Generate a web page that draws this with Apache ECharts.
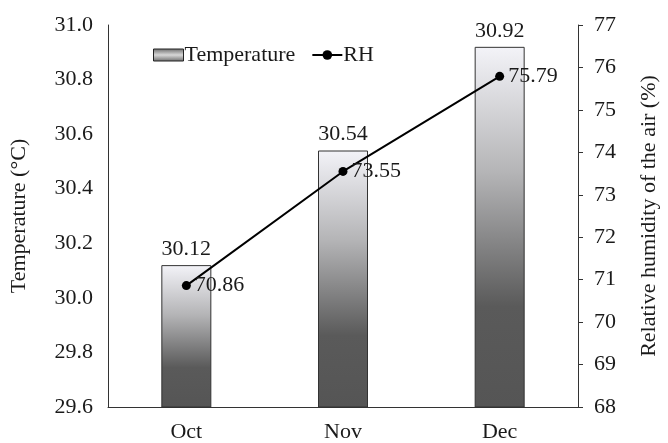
<!DOCTYPE html>
<html>
<head>
<meta charset="utf-8">
<script src="https://cdn.jsdelivr.net/npm/echarts@6/dist/echarts.min.js"></script>
<style>
  html, body { margin: 0; padding: 0; background: #fff; }
  #chart { width: 668px; height: 443px; }
</style>
</head>
<body>
<div id="chart"></div>
<script>
// Monthly mean air temperature and relative humidity
const months = ['Oct', 'Nov', 'Dec'];
const temperature = [30.12, 30.54, 30.92];
const humidity = [70.86, 73.55, 75.79];

const FONT = '"Liberation Serif", "Times New Roman", serif';
const TXT = '#1a1a1a';
const FS = 22;

const barFill = new echarts.graphic.LinearGradient(0, 0, 0, 1, [
  { offset: 0, color: '#f3f3f8' },
  { offset: 0.35, color: '#b4b4b6' },
  { offset: 0.72, color: '#5a5a5a' },
  { offset: 1, color: '#555555' }
]);
const legendFill = new echarts.graphic.LinearGradient(0, 0, 0, 1, [
  { offset: 0, color: '#6a6a6a' },
  { offset: 0.5, color: '#d8d8d8' },
  { offset: 1, color: '#6a6a6a' }
]);

const chart = echarts.init(document.getElementById('chart'), null, { renderer: 'canvas' });
chart.setOption({
  backgroundColor: '#fff',
  animation: false,
  textStyle: { fontFamily: FONT, color: TXT },
  grid: { left: 108, right: 86, top: 25, bottom: 36 },
  legend: {
    left: 148,
    top: 39,
    itemGap: 16,
    itemWidth: 30,
    itemHeight: 12,
    textStyle: { fontFamily: FONT, fontSize: FS, color: TXT, padding: [0, 0, 0, -4] },
    data: [
      { name: 'Temperature', icon: 'rect', itemStyle: { color: legendFill, borderColor: '#222', borderWidth: 1 } },
      { name: 'RH' }
    ]
  },
  xAxis: {
    type: 'category',
    data: months,
    axisLine: { lineStyle: { color: '#333', width: 1 } },
    axisTick: { show: false },
    axisLabel: { fontFamily: FONT, fontSize: FS, color: TXT, margin: 14 }
  },
  yAxis: [
    {
      type: 'value',
      min: 29.6, max: 31.0, interval: 0.2,
      name: 'Temperature (°C)',
      nameLocation: 'middle',
      nameGap: 78,
      nameTextStyle: { fontFamily: FONT, fontSize: FS, color: TXT },
      axisLine: { show: true, lineStyle: { color: '#333', width: 1 } },
      axisTick: { show: false },
      splitLine: { show: false },
      axisLabel: { fontFamily: FONT, fontSize: FS, color: TXT, margin: 15, formatter: v => v.toFixed(1) }
    },
    {
      type: 'value',
      min: 68, max: 77, interval: 1,
      position: 'right',
      name: 'Relative humidity of the air (%)',
      nameLocation: 'middle',
      nameGap: 60,
      nameRotate: 90,
      nameTextStyle: { fontFamily: FONT, fontSize: FS, color: TXT },
      axisLine: { show: true, lineStyle: { color: '#333', width: 1 } },
      axisTick: { show: true, inside: false, length: 5, lineStyle: { color: '#333' } },
      splitLine: { show: false },
      axisLabel: { fontFamily: FONT, fontSize: FS, color: TXT, margin: 16 }
    }
  ],
  series: [
    {
      name: 'Temperature',
      type: 'bar',
      yAxisIndex: 0,
      barWidth: 50,
      data: temperature,
      itemStyle: { color: barFill, borderColor: '#333', borderWidth: 1 },
      label: {
        show: true, position: 'top', distance: 5,
        fontFamily: FONT, fontSize: FS, color: TXT,
        formatter: p => p.value.toFixed(2)
      }
    },
    {
      name: 'RH',
      type: 'line',
      yAxisIndex: 1,
      data: humidity,
      symbol: 'circle',
      symbolSize: 9,
      lineStyle: { color: '#000', width: 2 },
      itemStyle: { color: '#000' },
      label: {
        show: true, position: 'right', distance: 4,
        fontFamily: FONT, fontSize: FS, color: TXT,
        formatter: p => p.value.toFixed(2)
      }
    }
  ]
});
</script>
</body>
</html>
